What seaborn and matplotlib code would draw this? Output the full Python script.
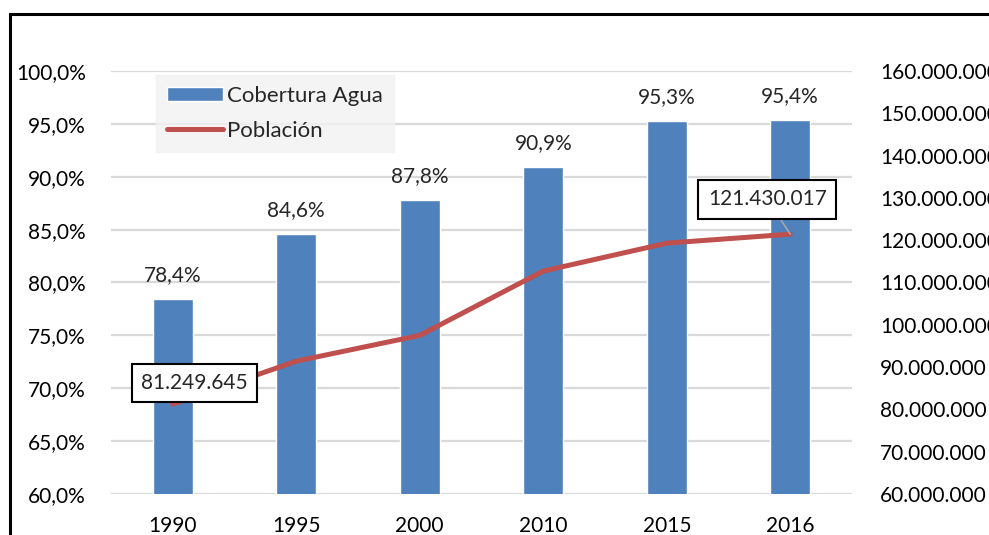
import numpy as np
import pandas as pd
import matplotlib
matplotlib.use("Agg")
import matplotlib.pyplot as plt
from matplotlib.patches import Rectangle
from matplotlib.ticker import FuncFormatter, MultipleLocator
import seaborn as sns

years = ["1990", "1995", "2000", "2010", "2015", "2016"]
cobertura = [78.4, 84.6, 87.8, 90.9, 95.3, 95.4]
poblacion = [81249645, 91400000, 97500000, 112700000, 119300000, 121430017]
bar_labels = ["78,4%", "84,6%", "87,8%", "90,9%", "95,3%", "95,4%"]

sns.set_theme(style="white")
FONT = ["Lato", "DejaVu Sans"]
plt.rcParams["font.family"] = FONT
FS = 15

BLUE = "#4F81BD"
RED = "#C0504D"

df = pd.DataFrame({"year": years, "cobertura": cobertura,
                   "poblacion": poblacion, "pos": np.arange(len(years))})

W, H = 989, 535
fig = plt.figure(figsize=(W / 100, H / 100), dpi=100)
left, right, top, bottom = 111, 852, 71, 494
ax = fig.add_axes([left / W, 1 - bottom / H, (right - left) / W, (bottom - top) / H])

sns.barplot(data=df, x="year", y="cobertura", color=BLUE, width=0.32,
            saturation=1, ax=ax, label="Cobertura Agua", zorder=3)
if ax.get_legend() is not None:
    ax.get_legend().remove()
ax.set_ylim(60, 100)
ax.set_xlim(-0.5, len(years) - 0.5)
ax.yaxis.set_major_locator(MultipleLocator(5))
ax.yaxis.set_major_formatter(FuncFormatter(lambda v, p: f"{v:.1f}%".replace(".", ",")))
ax.grid(axis="y", color="#D9D9D9", linewidth=1.6, zorder=0)
ax.set_axisbelow(True)
for s in ax.spines.values():
    s.set_visible(False)
ax.set_xlabel("")
ax.set_ylabel("")
ax.tick_params(axis="both", length=0, labelsize=FS, colors="black")
ax.tick_params(axis="y", pad=18)
ax.tick_params(axis="x", pad=16)
ax.bar_label(ax.containers[0], labels=bar_labels, padding=10, fontsize=FS)

ax2 = ax.twinx()
sns.lineplot(data=df, x="pos", y="poblacion", color=RED, linewidth=3.6,
             ax=ax2, label="Población", legend=False, zorder=4)
ax2.set_ylim(60e6, 160e6)
ax2.yaxis.set_major_locator(MultipleLocator(10e6))
ax2.yaxis.set_major_formatter(FuncFormatter(lambda v, p: f"{int(round(v)):,}".replace(",", ".")))
for s in ax2.spines.values():
    s.set_visible(False)
ax2.set_xlabel("")
ax2.set_ylabel("")
ax2.tick_params(axis="y", length=0, labelsize=FS, pad=20, colors="black")
ax2.grid(False)

bbox = dict(boxstyle="square,pad=0.45", fc="white", ec="black", lw=1.5)
ax2.annotate("81.249.645", xy=(0, poblacion[0]), xytext=(22, 21),
             textcoords="offset pixels", ha="center", va="center",
             fontsize=FS, bbox=bbox, zorder=6)
ax2.annotate("121.430.017", xy=(5, poblacion[5]), xytext=(-23, 35),
             textcoords="offset pixels", ha="center", va="center",
             fontsize=FS, bbox=bbox, zorder=6,
             arrowprops=dict(arrowstyle="-", color="#A6A6A6", lw=1.2,
                             shrinkA=0, shrinkB=0))

h1, l1 = ax.get_legend_handles_labels()
h2, l2 = ax2.get_legend_handles_labels()
leg = ax2.legend(h1 + h2, l1 + l2, loc="upper left",
                 bbox_to_anchor=((156 - left) / (right - left), 1 - (75 - top) / (bottom - top)),
                 frameon=True, fancybox=False, fontsize=16, handlelength=2.5,
                 handleheight=0.6, handletextpad=0.2, borderpad=0.5,
                 labelspacing=0.65, borderaxespad=0)
leg.get_frame().set_facecolor("#F2F2F2")
leg.get_frame().set_edgecolor("#F2F2F2")
leg.set_zorder(7)

fig.patches.append(Rectangle((10 / W, -0.1), 1.2, 1 - 14 / H + 0.1,
                             transform=fig.transFigure, fill=False,
                             ec="black", lw=2.2, zorder=10))

fig.savefig("out.png", dpi=100)
